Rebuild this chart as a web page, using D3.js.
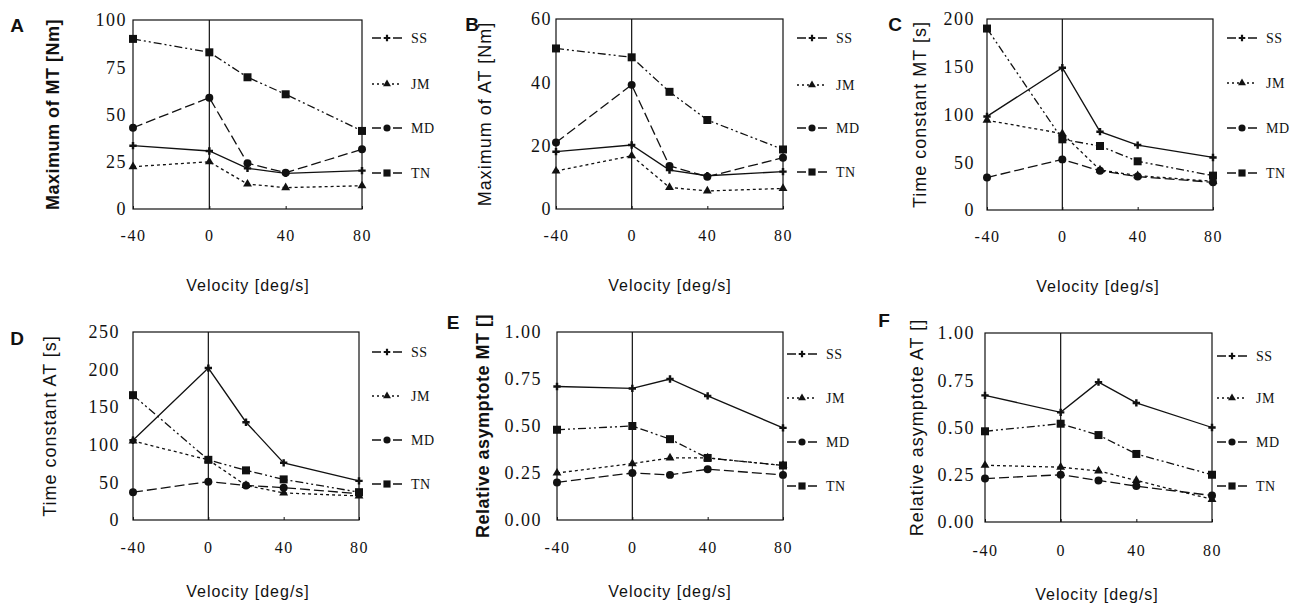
<!DOCTYPE html>
<html>
<head>
<meta charset="utf-8">
<script src="https://cdn.jsdelivr.net/npm/d3@7"></script>
<style>
  body { margin: 0; background: #fff; }
  svg { display: block; }
</style>
</head>
<body>
<svg width="1291" height="608"></svg>
<script>
	// data
	var velocities = [-40, 0, 20, 40, 80];
	var xTicks = [-40, 0, 40, 80];
	var seriesNames = ["SS", "JM", "MD", "TN"];

	var maxMT = {
		SS: [33.5, 30.7, 21.5, 18.9, 20.3],
		JM: [22.4, 25.0, 13.2, 11.3, 12.3],
		MD: [43.0, 58.9, 24.2, 19.2, 31.6],
		TN: [90.0, 82.9, 69.7, 60.7, 41.3]
	};
	var maxAT = {
		SS: [18.1, 20.2, 12.3, 10.5, 11.8],
		JM: [12.0, 16.8, 6.8, 5.7, 6.5],
		MD: [21.0, 39.2, 13.6, 10.2, 16.2],
		TN: [50.7, 47.9, 37.0, 28.1, 18.8]
	};
	var tauMT = {
		SS: [98, 149, 82, 68, 55],
		JM: [94, 80, 42, 36, 30],
		MD: [34, 53, 41, 35, 29],
		TN: [190, 74, 67, 51, 36]
	};
	var tauAT = {
		SS: [106, 202, 130, 76, 52],
		JM: [105, 80, 46, 36, 32],
		MD: [37, 51, 46, 43, 35],
		TN: [166, 80, 66, 54, 37]
	};
	var asyMT = {
		SS: [0.71, 0.70, 0.75, 0.66, 0.49],
		JM: [0.25, 0.30, 0.33, 0.33, 0.29],
		MD: [0.20, 0.25, 0.24, 0.27, 0.24],
		TN: [0.48, 0.50, 0.43, 0.33, 0.29]
	};
	var asyAT = {
		SS: [0.67, 0.58, 0.74, 0.63, 0.50],
		JM: [0.30, 0.29, 0.27, 0.22, 0.12],
		MD: [0.23, 0.25, 0.22, 0.19, 0.14],
		TN: [0.48, 0.52, 0.46, 0.36, 0.25]
	};

	var ticksA = [0, 25, 50, 75, 100];
	var ticksB = [0, 20, 40, 60];
	var ticksC = [0, 50, 100, 150, 200];
	var ticksD = [0, 50, 100, 150, 200, 250];
	var ticksEF = [0, 0.25, 0.5, 0.75, 1];

	// line styles / markers
	var dash = { SS: null, JM: "3,3", MD: "10,4", TN: "8,3,2,3,2,3" };
	var legDash = { SS: "9,12,9", JM: "2,3", MD: "9,12,9", TN: "9,12,9" };
	var sym = { SS: d3.symbolCross, JM: d3.symbolTriangle, MD: d3.symbolCircle, TN: d3.symbolSquare };
	var symSize = { SS: 30, JM: 34, MD: 50, TN: 64 };

	var panels = [
		{ letter: "A", lx: 17, ly: 32, title: "Maximum of MT [Nm]", tx: 53, data: maxMT, ticks: ticksA, fmt: d3.format("d"),
		  l: 133, r: 362, t: 20, b: 209, gap: 6, legX: 372, legY: [38, 84, 128, 173], titleX: 248, xtY: 241, xtitleY: 291, bold: true },
		{ letter: "B", lx: 472, ly: 31, title: "Maximum of AT [Nm]", tx: 485, data: maxAT, ticks: ticksB, fmt: d3.format("d"),
		  l: 556, r: 783, t: 19, b: 209, gap: 4, legX: 797, legY: [38, 85, 128, 172], titleX: 670, xtY: 241, xtitleY: 291, bold: false },
		{ letter: "C", lx: 895, ly: 31, title: "Time constant MT [s]", tx: 920, data: tauMT, ticks: ticksC, fmt: d3.format("d"),
		  l: 987, r: 1213, t: 19, b: 210, gap: 12, legX: 1227, legY: [38, 83, 128, 173], titleX: 1098, xtY: 242, xtitleY: 292, bold: false },
		{ letter: "D", lx: 17, ly: 345, title: "Time constant AT [s]", tx: 50, data: tauAT, ticks: ticksD, fmt: d3.format("d"),
		  l: 133, r: 359, t: 332, b: 520, gap: 13, legX: 372, legY: [352, 396, 440, 484], titleX: 248, xtY: 553, xtitleY: 597, bold: false },
		{ letter: "E", lx: 453, ly: 329, title: "Relative asymptote MT []", tx: 483, data: asyMT, ticks: ticksEF, fmt: d3.format(".2f"),
		  l: 557, r: 783, t: 332, b: 520, gap: 15, legX: 787, legY: [354, 398, 442, 486], titleX: 670, xtY: 553, xtitleY: 597, bold: true },
		{ letter: "F", lx: 884, ly: 327, title: "Relative asymptote AT []", tx: 917, data: asyAT, ticks: ticksEF, fmt: d3.format(".2f"),
		  l: 985, r: 1212, t: 333, b: 522, gap: 10, legX: 1217, legY: [356, 398, 442, 486], titleX: 1097, xtY: 556, xtitleY: 600, bold: false }
	];

	var svg = d3.select("svg");
	var serif = "'Liberation Serif', 'Times New Roman', serif";
	var sans = "'Liberation Sans', Arial, sans-serif";

	panels.forEach(function(p) {
		var g = svg.append("g");
		var x = d3.scaleLinear().domain([-40, 80]).range([p.l, p.r]);
		var y = d3.scaleLinear().domain([0, d3.max(p.ticks)]).range([p.b, p.t]);

		// frame + zero line
		g.append("rect")
			.attr("x", p.l).attr("y", p.t)
			.attr("width", p.r - p.l).attr("height", p.b - p.t)
			.attr("fill", "none").attr("stroke", "#111").attr("stroke-width", 1.2);
		g.append("line")
			.attr("x1", x(0)).attr("x2", x(0))
			.attr("y1", p.t).attr("y2", p.b)
			.attr("stroke", "#111").attr("stroke-width", 1.2);

		// y axis
		var ya = g.append("g")
			.attr("transform", "translate(" + (p.l - p.gap) + ",0)")
			.call(d3.axisLeft(y).tickValues(p.ticks).tickSize(0).tickPadding(0).tickFormat(p.fmt));
		ya.select(".domain").remove();
		ya.selectAll("text")
			.style("font-family", serif).style("font-size", "18px")
			.style("letter-spacing", "1.5px").attr("fill", "#111");

		// x axis (inner ticks), plain hyphen for negatives
		var xa = g.append("g")
			.attr("transform", "translate(0," + p.b + ")")
			.call(d3.axisBottom(x).tickValues(xTicks).tickSize(-3).tickPadding(0)
				.tickFormat(function(d) { return String(d); }));
		xa.select(".domain").remove();
		xa.selectAll("line").attr("stroke", "#111");
		xa.selectAll("text")
			.attr("y", p.xtY - p.b).attr("dy", 0)
			.style("font-family", serif).style("font-size", "16px")
			.style("letter-spacing", "1.5px").attr("fill", "#111");

		// series
		seriesNames.forEach(function(s) {
			var pts = velocities.map(function(v, i) { return [v, p.data[s][i]]; });
			g.append("path")
				.datum(pts)
				.attr("fill", "none").attr("stroke", "#111")
				.attr("stroke-width", 1.3)
				.attr("stroke-dasharray", dash[s])
				.attr("d", d3.line().x(function(d) { return x(d[0]); }).y(function(d) { return y(d[1]); }));
			g.selectAll(null).data(pts).enter().append("path")
				.attr("transform", function(d) { return "translate(" + x(d[0]) + "," + y(d[1]) + ")"; })
				.attr("d", d3.symbol().type(sym[s]).size(symSize[s]))
				.attr("fill", "#111");
		});

		// legend
		seriesNames.forEach(function(s, i) {
			var ly = p.legY[i];
			g.append("line")
				.attr("x1", p.legX).attr("x2", p.legX + 30)
				.attr("y1", ly).attr("y2", ly)
				.attr("stroke", "#111").attr("stroke-width", 1.3)
				.attr("stroke-dasharray", legDash[s]);
			g.append("path")
				.attr("transform", "translate(" + (p.legX + 15) + "," + ly + ")")
				.attr("d", d3.symbol().type(sym[s]).size(symSize[s] * 0.8))
				.attr("fill", "#111");
			g.append("text")
				.attr("x", p.legX + 39).attr("y", ly + 5)
				.style("font-family", serif).style("font-size", "14px")
				.style("letter-spacing", "0.5px").attr("fill", "#111")
				.text(s);
		});

		// titles
		g.append("text")
			.attr("transform", "translate(" + p.tx + "," + ((p.t + p.b) / 2) + ") rotate(-90)")
			.attr("text-anchor", "middle").attr("dy", "0.35em")
			.style("font-family", sans).style("font-size", "18px")
			.style("font-weight", p.bold ? "bold" : "normal")
			.style("letter-spacing", p.bold ? "0.5px" : "1px").attr("fill", "#111")
			.text(p.title);
		g.append("text")
			.attr("x", p.titleX).attr("y", p.xtitleY)
			.attr("text-anchor", "middle")
			.style("font-family", sans).style("font-size", "16px")
			.style("letter-spacing", "1px").attr("fill", "#111")
			.text("Velocity [deg/s]");
		g.append("text")
			.attr("x", p.lx).attr("y", p.ly)
			.attr("text-anchor", "middle")
			.style("font-family", sans).style("font-size", "19px")
			.style("font-weight", "bold").attr("fill", "#111")
			.text(p.letter);
	});
</script>
</body>
</html>
